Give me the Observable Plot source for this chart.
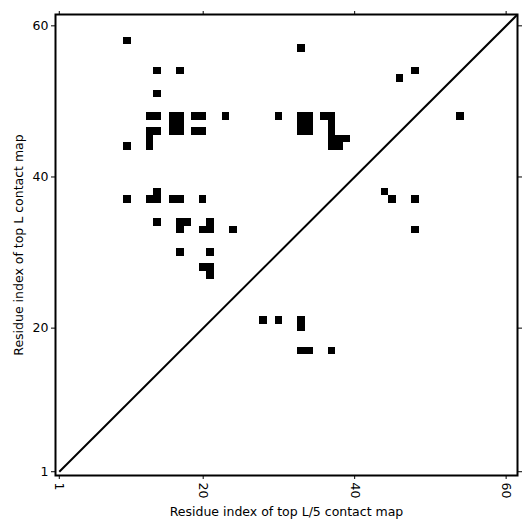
<!DOCTYPE html>
<html><head><meta charset="utf-8">
<script src="https://cdn.jsdelivr.net/npm/d3@7"></script>
<script src="https://cdn.jsdelivr.net/npm/@observablehq/plot@0.6"></script>
<style>body{margin:0;background:#fff}</style>
</head><body><div id="chart"></div>
<script>
const L = 61;
const xTicks = [1, 20, 40, 60];
const yTicks = [1, 20, 40, 60];
const xLabel = "Residue index of top L/5 contact map";
const yLabel = "Residue index of top L contact map";
const contactI = [
  10, 33, 14, 17, 48, 46, 14,
  13, 14, 16, 17, 19, 20, 23, 30, 33, 34, 36, 37, 54,
  16, 17, 33, 34, 37,
  13, 14, 16, 17, 19, 20, 33, 34, 37,
  13, 37, 38, 39,
  10, 13, 37, 38,
  14, 44,
  10, 13, 14, 16, 17, 20, 45, 48,
  14, 17, 18, 21,
  17, 20, 21, 24, 48,
  17, 21,
  20, 21,
  21,
  28, 30, 33,
  33,
  33, 34, 37
];
const contactJ = [
  58, 57, 54, 54, 54, 53, 51,
  48, 48, 48, 48, 48, 48, 48, 48, 48, 48, 48, 48, 48,
  47, 47, 47, 47, 47,
  46, 46, 46, 46, 46, 46, 46, 46, 46,
  45, 45, 45, 45,
  44, 44, 44, 44,
  38, 38,
  37, 37, 37, 37, 37, 37, 37, 37,
  34, 34, 34, 34,
  33, 33, 33, 33, 33,
  30, 30,
  28, 28,
  27,
  21, 21, 21,
  20,
  17, 17, 17
];
const contacts = contactI.map((i, k) => ({i, j: contactJ[k]}));

const plot = Plot.plot({
  width: 531, height: 531,
  marginLeft: 55, marginRight: 14, marginTop: 14, marginBottom: 56,
  style: {fontFamily: "DejaVu Sans", fontSize: "12.5px", color: "#000", background: "#fff"},
  x: {domain: [0.5, L + 0.5]},
  y: {domain: [0.5, L + 0.5]},
  marks: [
    Plot.rect(contacts, {x1: d => d.i - 0.5, x2: d => d.i + 0.5, y1: d => d.j - 0.5, y2: d => d.j + 0.5, fill: "black", shapeRendering: "crispEdges"}),
    Plot.link([L], {x1: () => 1, y1: () => 1, x2: d => d + 0.5, y2: d => d + 0.5, stroke: "black", strokeWidth: 2}),
    Plot.frame({stroke: "black", strokeWidth: 2}),
    Plot.axisX(xTicks, {anchor: "bottom", tickSize: 4, tickPadding: 3, tickRotate: 90, label: xLabel, labelAnchor: "center", labelArrow: "none", labelOffset: 40, fontSize: 12.5}),
    Plot.axisX(xTicks, {anchor: "top", tickSize: 4, tickFormat: () => "", label: null}),
    Plot.axisY(yTicks, {anchor: "left", tickSize: 4, tickPadding: 3, label: yLabel, labelAnchor: "center", labelArrow: "none", labelOffset: 41, fontSize: 12.5}),
    Plot.axisY(yTicks, {anchor: "right", tickSize: 4, tickFormat: () => "", label: null})
  ]
});
document.getElementById("chart").appendChild(plot);
</script>
</body></html>
